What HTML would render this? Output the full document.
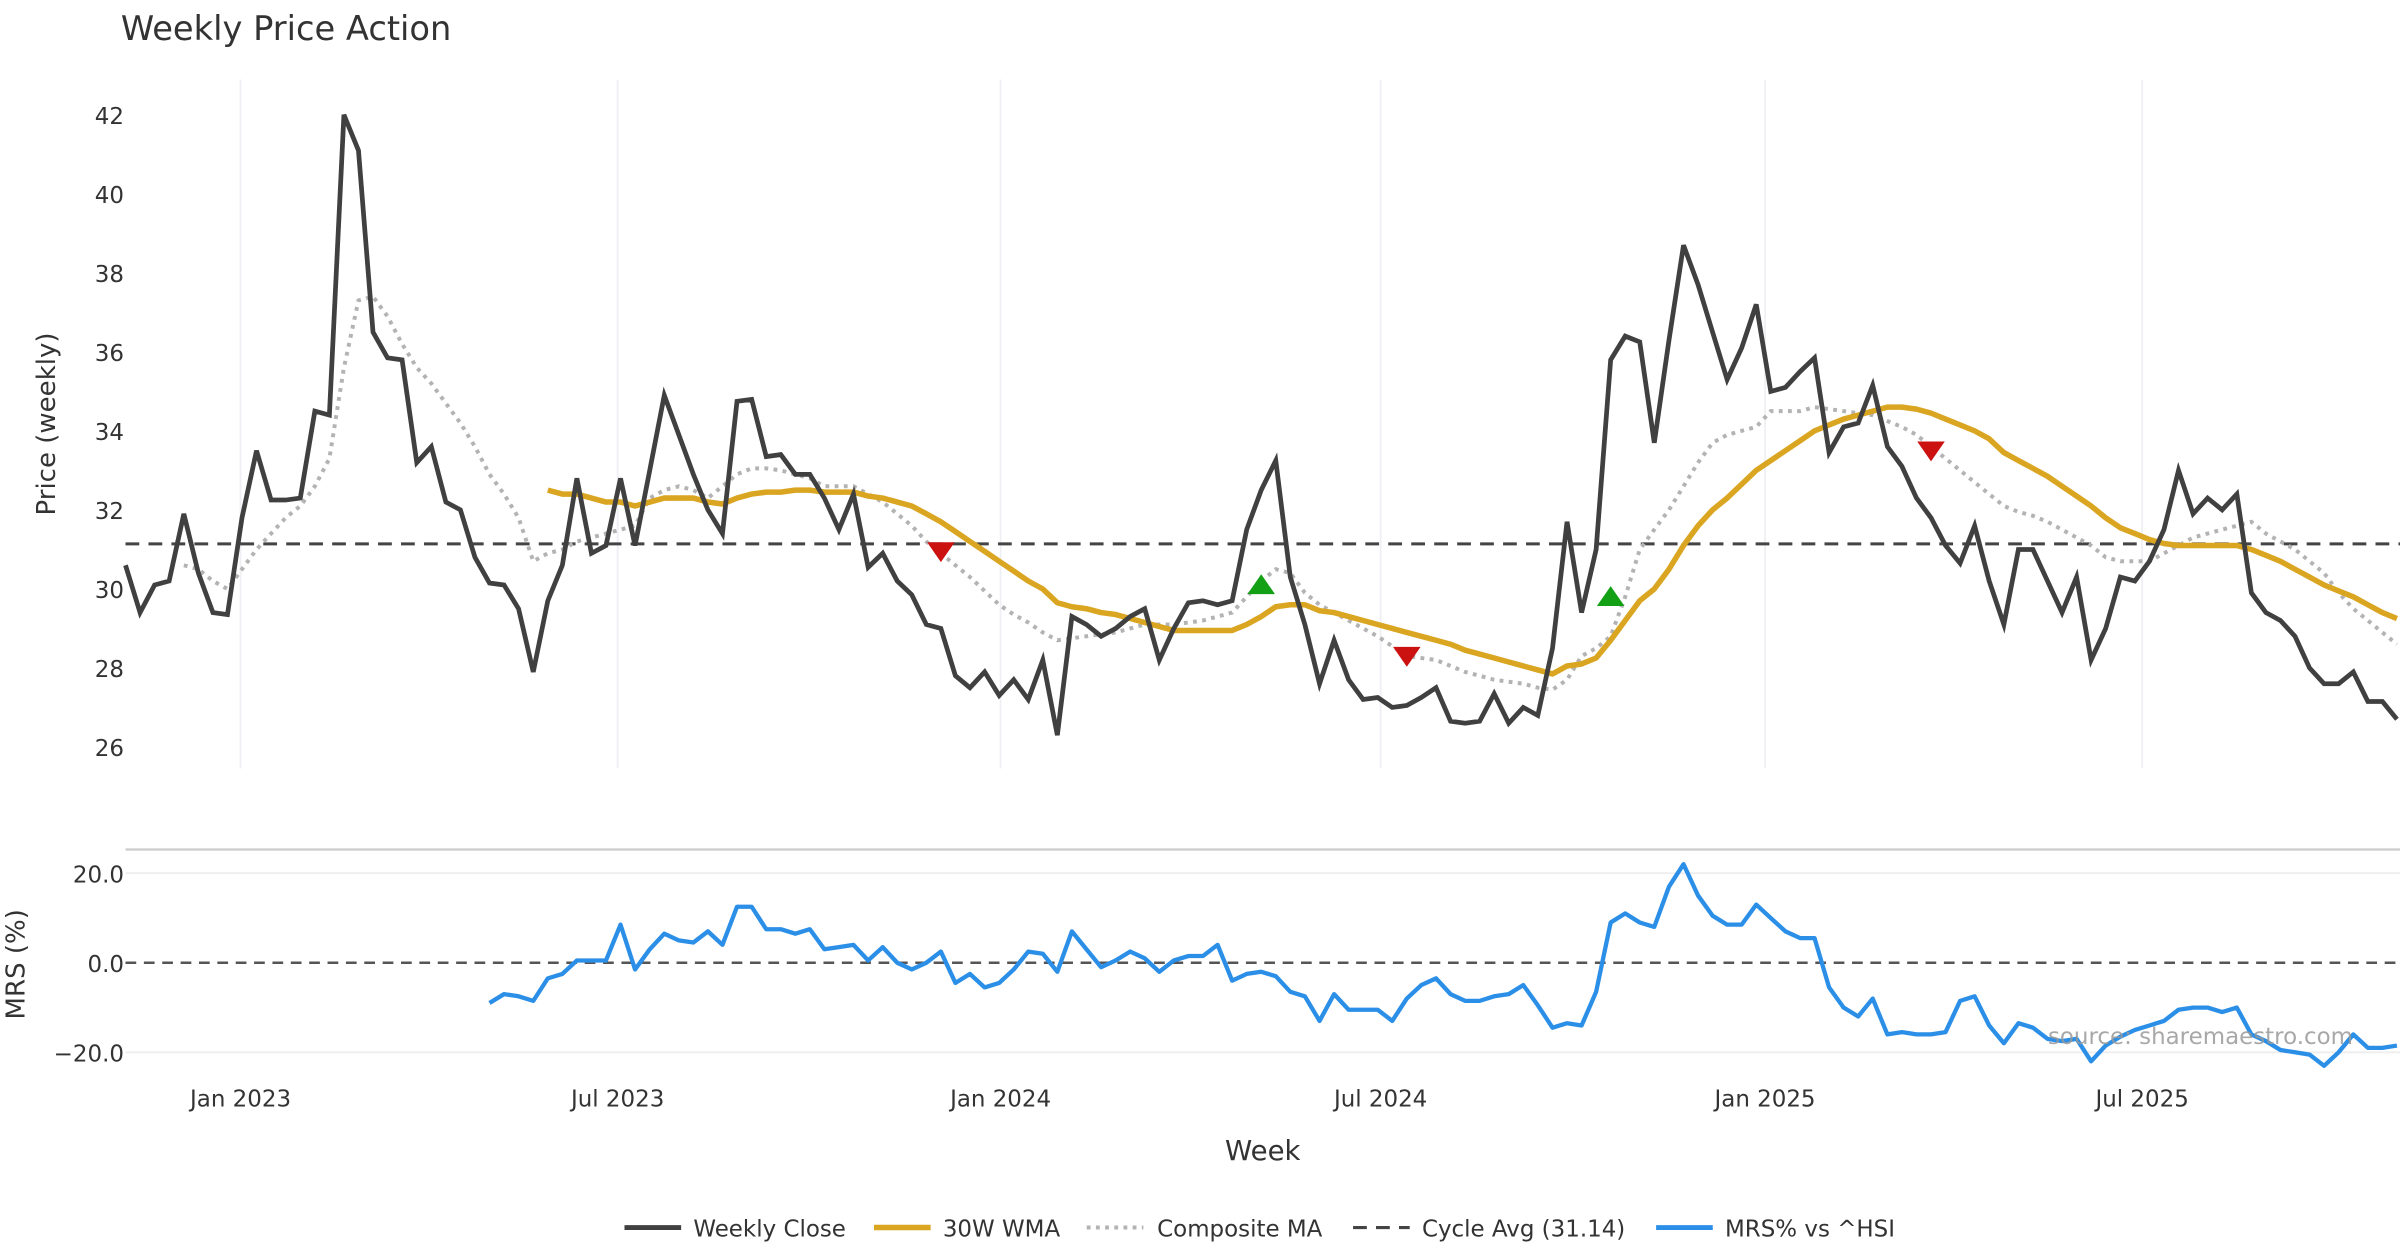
<!DOCTYPE html>
<html><head><meta charset="utf-8">
<style>
html,body{margin:0;padding:0;background:#fff;}
svg{display:block;font-family:"DejaVu Sans","Liberation Sans",sans-serif;}
</style></head>
<body>
<svg id="chart" width="2400" height="1260" viewBox="0 0 1568 823.2" xmlns="http://www.w3.org/2000/svg">
<rect width="1568" height="823.2" fill="#fff"/>
<text x="79" y="26" font-size="22" fill="#333">Weekly Price Action</text>
<g id="grid"></g>
<g id="marks"></g>
<g id="axes"></g>
<text transform="translate(36,277) rotate(-90)" text-anchor="middle" font-size="17" fill="#333">Price (weekly)</text>
<text transform="translate(16,630) rotate(-90)" text-anchor="middle" font-size="17" fill="#333">MRS (%)</text>
<text x="825" y="758" text-anchor="middle" font-size="18" fill="#333">Week</text>
<text x="1338" y="682" font-size="15" fill="#999" opacity="0.85">source: sharemaestro.com</text>
<g id="legend"></g>
</svg>
<script>
const closeVals=[30.6,29.4,30.1,30.2,31.9,30.4,29.4,29.35,31.8,33.5,32.25,32.25,32.3,34.5,34.4,42.0,41.1,36.5,35.85,35.8,33.2,33.6,32.2,32.0,30.8,30.15,30.1,29.5,27.9,29.7,30.6,32.8,30.9,31.1,32.8,31.1,33.0,34.9,
33.9,32.9,32.0,31.4,34.75,34.8,33.35,33.4,32.9,32.9,32.3,31.5,32.4,30.55,30.9,30.2,29.85,29.1,29.0,27.8,27.5,27.9,27.3,27.7,27.2,28.2,26.3,29.3,29.1,28.8,29.0,29.3,29.5,28.2,29.0,29.65,29.7,29.6,29.7,31.5,32.5,33.25,30.3,29.1,27.6,28.7,27.7,27.2,27.25,27.0,27.05,27.25,27.5,26.65,26.6,26.65,27.35,26.6,27.0,26.8,28.5,31.7,29.4,31.0,35.8,36.4,36.25,33.7,36.3,38.7,37.7,36.5,35.3,36.1,37.2,35.0,35.1,35.5,35.85,33.45,34.1,34.2,35.15,33.6,33.1,32.3,31.8,31.1,30.65,31.6,30.2,29.1,31.0,31.0,30.2,29.4,30.3,28.2,29.0,30.3,30.2,30.7,31.5,33.0,31.9,32.3,32.0,32.4,29.9,29.4,29.2,28.8,28.0,27.6,27.6,27.9,27.15,27.15,26.7];
const wmaVals=[32.5,32.4,32.4,32.3,32.2,32.2,32.1,32.2,32.3,32.3,32.3,32.2,32.15,32.3,32.4,32.45,32.45,32.5,32.5,32.45,32.45,32.45,32.35,32.3,32.2,32.1,31.9,31.7,31.45,31.2,30.95,30.7,30.45,30.2,30.0,29.65,29.55,29.5,29.4,29.35,29.25,29.15,29.05,28.95,28.95,28.95,28.95,28.95,29.1,29.3,29.55,29.6,29.6,29.45,29.4,29.3,29.2,29.1,29.0,28.9,28.8,28.7,28.6,28.45,28.35,28.25,28.15,28.05,27.95,27.85,28.05,28.1,28.25,28.7,29.2,29.7,30.0,30.5,31.1,31.6,32.0,32.3,32.65,33.0,33.25,33.5,33.75,34.0,34.15,34.3,34.4,34.5,34.6,34.6,34.55,34.45,34.3,34.15,34.0,33.8,33.45,33.25,33.05,32.85,32.6,32.35,32.1,31.8,31.55,31.4,31.25,31.15,31.1,31.1,31.1,31.1,31.1,31.0,30.85,30.7,30.5,30.3,30.1,29.95,29.8,29.6,29.4,29.25];
const compVals=[30.6,30.5,30.2,30.0,30.5,31.0,31.4,31.8,32.1,32.6,33.3,35.6,37.3,37.4,36.9,36.2,35.6,35.2,34.7,34.2,33.6,32.9,32.4,31.8,30.7,30.9,31.0,31.2,31.3,31.4,31.5,31.6,32.3,32.5,32.6,32.5,32.3,32.6,32.9,33.05,33.05,33.0,32.9,32.8,32.6,32.6,32.6,32.4,32.2,31.9,31.6,31.2,30.9,30.6,30.3,29.95,29.6,29.35,29.15,28.9,28.7,28.75,28.8,28.85,28.9,29.0,29.1,29.1,29.1,29.15,29.2,29.3,29.4,29.8,30.2,30.5,30.4,29.9,29.6,29.4,29.2,29.0,28.8,28.55,28.3,28.25,28.2,28.05,27.9,27.8,27.7,27.65,27.6,27.5,27.45,27.7,28.3,28.5,28.8,29.8,31.0,31.5,32.0,32.6,33.2,33.7,33.9,34.0,34.1,34.5,34.5,34.5,34.6,34.55,34.5,34.45,34.4,34.25,34.1,33.9,33.6,33.3,33.0,32.7,32.4,32.1,31.95,31.85,31.7,31.5,31.3,31.1,30.8,30.7,30.7,30.7,30.9,31.1,31.3,31.4,31.5,31.6,31.7,31.4,31.2,31.0,30.7,30.4,29.9,29.5,29.2,28.9,28.6];
const mrsVals=[-9,-7,-7.5,-8.5,-3.5,-2.5,0.5,0.5,0.5,8.5,-1.5,3,6.5,5,4.5,7,4,12.5,12.5,7.5,7.5,6.5,7.5,3,3.5,4,0.5,3.5,0,-1.5,0,2.5,-4.5,-2.5,-5.5,-4.5,-1.5,2.5,2,-2,7,3,-1,0.5,2.5,1,-2,0.5,1.5,1.5,4,-4,-2.5,-2,-3,-6.5,-7.5,-13,-7,-10.5,-10.5,-10.5,-13,-8,-5,-3.5,-7,-8.5,-8.5,-7.5,-7,-5,-9.5,-14.5,-13.5,-14,-6.5,9,11,9,8,17,22,15,10.5,8.5,8.5,13,10,7,5.5,5.5,-5.5,-10,-12,-8,-16,-15.5,-16,-16,-15.5,-8.5,-7.5,-14,-18,-13.5,-14.5,-17,-17.5,-17,-22,-18.5,-16.5,-15,-14,-13,-10.5,-10,-10,-11,-10,-16,-17.5,-19.5,-20,-20.5,-23,-20,-16,-19,-19,-18.5];
const cycleAvg=31.14;
const sellIdx=[56,88,124], sellVals=[30.95,28.3,33.5];
const buyIdx=[78,102], buyVals=[30.1,29.8];
const priceTicks=[26,28,30,32,34,36,38,40,42];
const mrsTicks=[20,0,-20];
const mrsTickLabels=["20.0","0.0","\u221220.0"];
const dateLabels=["Jan 2023","Jul 2023","Jan 2024","Jul 2024","Jan 2025","Jul 2025"];
const dateWeekIdx=[7.9,33.8,60.1,86.2,112.6,138.5];

const N=157, X0=82, DX=(1566-82)/156;
const xS=i=>X0+i*DX;
const yP=v=>488-(v-26)*25.81;
const yM=v=>629-v*2.925;
const NS="http://www.w3.org/2000/svg";
function mk(tag,attrs,parent){const e=document.createElementNS(NS,tag);for(const k in attrs)e.setAttribute(k,attrs[k]);document.getElementById(parent).appendChild(e);return e;}
function pts(vals,start,yf){return vals.map((v,k)=>xS(start+k).toFixed(1)+","+yf(v).toFixed(1)).join(" ");}

dateWeekIdx.forEach((w,k)=>{
  let g=mk('line',{x1:xS(w),x2:xS(w),y1:52,y2:502,stroke:'#eef0f3','stroke-width':1.2},'grid');
  
  
  let t=mk('text',{x:xS(w),y:723,'text-anchor':'middle','font-size':15,fill:'#333'},'axes');
  t.textContent=dateLabels[k];
  
  
});
priceTicks.forEach(v=>{
  let t=mk('text',{x:81,y:yP(v)+6,'text-anchor':'end','font-size':15,fill:'#333'},'axes');
  t.textContent=v;
  
  
});
let sep=mk('line',{x1:82,x2:1568,y1:555,y2:555,stroke:'#ccc','stroke-width':1.5},'grid');


mrsTicks.forEach((v,k)=>{
  if(v!==0){let g=mk('line',{x1:82,x2:1568,y1:yM(v),y2:yM(v),stroke:'#eee','stroke-width':1.2},'grid');
  
  }
  let t=mk('text',{x:81,y:yM(v)+6,'text-anchor':'end','font-size':15,fill:'#333'},'axes');
  t.textContent=mrsTickLabels[k];
  
  
});
let z=mk('line',{x1:82,x2:1568,y1:yM(0),y2:yM(0),stroke:'#555','stroke-width':1.6,'stroke-dasharray':'7,5'},'marks');


let ca=mk('line',{x1:82,x2:1568,y1:yP(cycleAvg),y2:yP(cycleAvg),stroke:'#444','stroke-width':2,'stroke-dasharray':'9,6'},'marks');



let comp=mk('polyline',{points:pts(compVals,N-compVals.length,yP),fill:'none',stroke:'#b3b3b3','stroke-width':2.6,'stroke-dasharray':'2.5,3.5'},'marks');


let wma=mk('polyline',{points:pts(wmaVals,N-wmaVals.length,yP),fill:'none',stroke:'#DAA520','stroke-width':3.6,'stroke-linejoin':'round'},'marks');


let cl=mk('polyline',{points:pts(closeVals,N-closeVals.length,yP),fill:'none',stroke:'#404040','stroke-width':3.1,'stroke-linejoin':'miter'},'marks');


let mr=mk('polyline',{points:pts(mrsVals,N-mrsVals.length,yM),fill:'none',stroke:'#2b8fe8','stroke-width':2.8,'stroke-linejoin':'round'},'marks');



sellIdx.forEach((i,k)=>{const x=xS(i),y=yP(sellVals[k]);
  let m=mk('polygon',{points:`${x-9},${y-6} ${x+9},${y-6} ${x},${y+7}`,fill:'#cc1111'},'marks');
  
  });
buyIdx.forEach((i,k)=>{const x=xS(i),y=yP(buyVals[k]);
  let m=mk('polygon',{points:`${x-9},${y+6} ${x+9},${y+6} ${x},${y-7}`,fill:'#14a014'},'marks');
  
  });

const leg=[
 [408,453,'Weekly Close',{stroke:'#404040','stroke-width':3.2}],
 [571,616,'30W WMA',{stroke:'#DAA520','stroke-width':3.6}],
 [710,756,'Composite MA',{stroke:'#b3b3b3','stroke-width':2.6,'stroke-dasharray':'2.5,3.5'}],
 [884,929,'Cycle Avg (31.14)',{stroke:'#444','stroke-width':2,'stroke-dasharray':'9,6'}],
 [1082,1127,'MRS% vs ^HSI',{stroke:'#2b8fe8','stroke-width':3.2}]
];
leg.forEach(l=>{
  let s=mk('line',Object.assign({x1:l[0],x2:l[0]+37,y1:802,y2:802},l[3]),'legend');
  
  
  let t=mk('text',{x:l[1],y:808,'font-size':15,fill:'#333'},'legend');
  t.textContent=l[2];
  
  
});
</script>
</body></html>
